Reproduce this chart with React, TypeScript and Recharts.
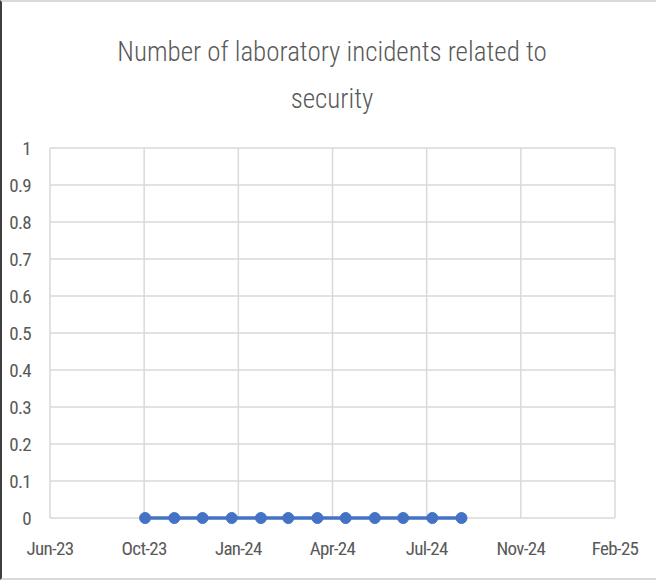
import { LineChart, Line, XAxis, YAxis, CartesianGrid } from 'recharts';

const DAY = 24 * 60 * 60 * 1000;

// monthly observations (first of month)
const months = [
  '2023-10-01', '2023-11-01', '2023-12-01', '2024-01-01', '2024-02-01', '2024-03-01',
  '2024-04-01', '2024-05-01', '2024-06-01', '2024-07-01', '2024-08-01', '2024-09-01',
];
const incidents = [0, 0, 0, 0, 0, 0, 0, 0, 0, 0, 0, 0];

// date axis as Excel drew it: 100-day major unit
const axisStart = '2023-06-22';
const tickLabels = ['Jun-23', 'Oct-23', 'Jan-24', 'Apr-24', 'Jul-24', 'Nov-24', 'Feb-25'];
const yTicks = [0, 0.1, 0.2, 0.3, 0.4, 0.5, 0.6, 0.7, 0.8, 0.9, 1];

const FONT = '"Roboto Condensed", "Liberation Sans Narrow", "DejaVu Sans Condensed", sans-serif';
const GRID = '#d9d9d9';
const TEXT = '#595959';
const TICK = { fill: TEXT, fontSize: 19, letterSpacing: -0.7, fontFamily: FONT };

const start = Date.parse(axisStart);
const xTicks = tickLabels.map((_, i) => start + i * 100 * DAY);
const data = months.map((m, i) => ({ t: Date.parse(m), v: incidents[i] }));

export default function App() {
  return (
    <div
      style={{
        position: 'absolute', left: 0, top: 0, width: 656, height: 580,
        background: '#fff', boxSizing: 'border-box',
        borderTop: `2px solid ${GRID}`, borderBottom: `2px solid ${GRID}`,
        borderLeft: '2px solid #404040', fontFamily: FONT,
      }}
    >
      <div
        style={{
          position: 'absolute', left: 0, top: 27, width: 660, textAlign: 'center',
          fontSize: 27, fontWeight: 300, lineHeight: '47px', color: TEXT, fontFamily: FONT,
        }}
      >
        Number of laboratory incidents related to
        <br />
        security
      </div>
      <div style={{ position: 'absolute', left: -2, top: -2 }}>
        <LineChart width={656} height={580} data={data} margin={{ top: 148, right: 41, bottom: 30, left: 0 }}>
          <CartesianGrid stroke={GRID} strokeWidth={1.5} horizontal vertical />
          <XAxis
            dataKey="t"
            type="number"
            scale="time"
            domain={[xTicks[0], xTicks[xTicks.length - 1]]}
            ticks={xTicks}
            tickFormatter={(_v: number, i: number) => tickLabels[i]}
            interval={0}
            height={32}
            axisLine={false}
            tickLine={false}
            tickMargin={18}
            tick={TICK}
          />
          <YAxis
            type="number"
            domain={[0, 1]}
            ticks={yTicks}
            width={50}
            axisLine={false}
            tickLine={false}
            tickMargin={13}
            tick={TICK}
          />
          <Line
            dataKey="v"
            stroke="#4472C4"
            strokeWidth={3.5}
            dot={{ r: 5.5, fill: '#4472C4', stroke: '#4472C4', strokeWidth: 1 }}
            isAnimationActive={false}
          />
        </LineChart>
      </div>
    </div>
  );
}
